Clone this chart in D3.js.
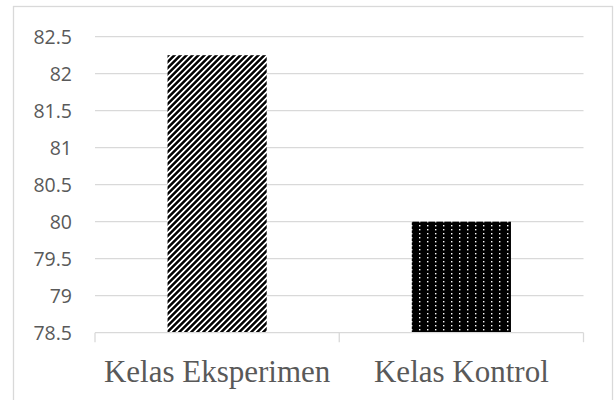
<!DOCTYPE html>
<html>
<head>
<meta charset="utf-8">
<script src="https://cdn.jsdelivr.net/npm/d3@7"></script>
<style>
  html, body { margin: 0; padding: 0; background: #fff; }
  svg { display: block; }
</style>
</head>
<body>
<svg id="chart" width="614" height="400"></svg>
<script>
(function () {
  'use strict';

  // chart data
  const categories = ['Kelas Eksperimen', 'Kelas Kontrol'];
  const values = [82.25, 80];
  const yTicks = [78.5, 79, 79.5, 80, 80.5, 81, 81.5, 82, 82.5];
  const fills = ['url(#stripes)', 'url(#dots)'];

  const svg = d3.select('#chart');
  const left = 95, right = 583.5, top = 36.7, bottom = 332.7;

  // outer frame
  svg.append('rect')
    .attr('x', 13.5).attr('y', 6.5)
    .attr('width', 599).attr('height', 400)
    .attr('fill', 'none').attr('stroke', '#d9d9d9').attr('stroke-width', 1.3);

  // patterns
  const defs = svg.append('defs');
  const stripes = defs.append('pattern')
    .attr('id', 'stripes')
    .attr('patternUnits', 'userSpaceOnUse')
    .attr('width', 4.24).attr('height', 10)
    .attr('patternTransform', 'rotate(45)');
  stripes.append('rect').attr('width', 4.24).attr('height', 10).attr('fill', '#fff');
  stripes.append('rect').attr('width', 2.5).attr('height', 10).attr('fill', '#000');

  const dots = defs.append('pattern')
    .attr('id', 'dots')
    .attr('patternUnits', 'userSpaceOnUse')
    .attr('x', 0).attr('y', 0)
    .attr('width', 8).attr('height', 4);
  dots.append('rect').attr('width', 8).attr('height', 4).attr('fill', '#000');
  dots.append('rect').attr('x', 3).attr('y', 1).attr('width', 1.4).attr('height', 1.4).attr('fill', '#fff');

  // scales
  const y = d3.scaleLinear().domain([78.5, 82.5]).range([bottom, top]);
  const xAxis = d3.scaleBand().domain(categories).range([left, right]).padding(0);
  const xBar = d3.scaleBand().domain(categories).range([left, right])
    .paddingInner(0.594).paddingOuter(0.297);

  // gridlines
  svg.append('g')
    .selectAll('line')
    .data(yTicks.slice(1))
    .join('line')
    .attr('x1', left).attr('x2', right)
    .attr('y1', d => y(d)).attr('y2', d => y(d))
    .attr('stroke', '#d9d9d9').attr('stroke-width', 1.3);

  // y labels
  svg.append('g')
    .selectAll('text')
    .data(yTicks)
    .join('text')
    .attr('x', 72)
    .attr('y', d => y(d))
    .attr('dy', '0.35em')
    .attr('text-anchor', 'end')
    .attr('fill', '#595959')
    .style('font-family', '"Open Sans", sans-serif')
    .style('font-size', '19.5px')
    .text(d => d);

  // bars
  svg.append('g')
    .selectAll('rect')
    .data(values)
    .join('rect')
    .attr('x', (d, i) => xBar(categories[i]))
    .attr('width', xBar.bandwidth())
    .attr('y', d => y(d))
    .attr('height', d => y(78.5) - y(d))
    .attr('fill', (d, i) => fills[i]);

  // category axis
  const axisG = svg.append('g');
  axisG.append('line')
    .attr('x1', left).attr('x2', right)
    .attr('y1', bottom).attr('y2', bottom)
    .attr('stroke', '#d9d9d9').attr('stroke-width', 1.3);

  const edges = categories.map(c => xAxis(c)).concat([right]);
  axisG.selectAll('line.tick')
    .data(edges)
    .join('line')
    .attr('class', 'tick')
    .attr('x1', d => d).attr('x2', d => d)
    .attr('y1', bottom).attr('y2', bottom + 9.5)
    .attr('stroke', '#d9d9d9').attr('stroke-width', 1.3);

  axisG.selectAll('text')
    .data(categories)
    .join('text')
    .attr('x', d => xAxis(d) + xAxis.bandwidth() / 2)
    .attr('y', 381.7)
    .attr('text-anchor', 'middle')
    .attr('fill', '#595959')
    .style('font-family', '"Liberation Serif", "Times New Roman", serif')
    .style('font-size', '31px')
    .text(d => d);
}());
</script>
</body>
</html>
